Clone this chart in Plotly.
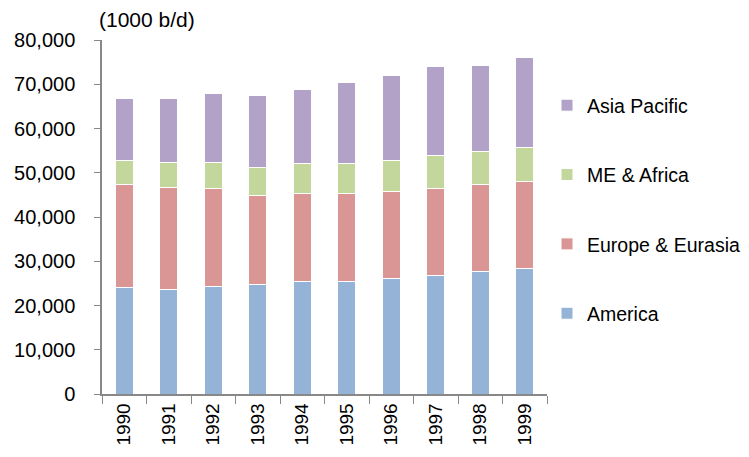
import plotly.graph_objects as go

years = ["1990", "1991", "1992", "1993", "1994", "1995", "1996", "1997", "1998", "1999"]
america = [24.0, 23.6, 24.4, 24.7, 25.4, 25.4, 26.1, 26.8, 27.6, 28.4]
europe_eurasia = [47.3, 46.6, 46.5, 44.9, 45.4, 45.3, 45.8, 46.5, 47.3, 48.0]
me_africa = [52.7, 52.4, 52.4, 51.2, 52.0, 52.0, 52.7, 53.9, 54.8, 55.6]
asia_pacific = [66.7, 66.7, 67.9, 67.5, 68.8, 70.4, 71.9, 73.9, 74.3, 76.1]

# cumulative tops (thousands) -> segment values (thousand b/d)
def seg(top, bottom):
    return [round((t - b) * 1000) for t, b in zip(top, bottom)]

zero = [0] * len(years)
series = [
    ("America", seg(america, zero), "#95B3D7", 4),
    ("Europe & Eurasia", seg(europe_eurasia, america), "#D99694", 3),
    ("ME & Africa", seg(me_africa, europe_eurasia), "#C3D69B", 2),
    ("Asia Pacific", seg(asia_pacific, me_africa), "#B3A2C7", 1),
]

font_family = "Liberation Sans, Arial, sans-serif"

fig = go.Figure()
for name, vals, color, rank in series:
    fig.add_trace(go.Bar(
        x=years, y=vals, name=name, legendgroup=name, legendrank=rank,
        marker=dict(color=color, line=dict(color="white", width=1)),
    ))

# page body has an 8px default margin, so the figure is offset by 8px
fig.update_layout(
    width=749, height=449,
    barmode="stack", bargap=0.6,
    plot_bgcolor="white", paper_bgcolor="white",
    margin=dict(l=94, r=210, t=32, b=63),
    font=dict(family=font_family, size=18, color="#000000"),
    showlegend=True,
    legend=dict(
        x=1.0, y=0.87, xanchor="left", yanchor="top",
        traceorder="grouped", tracegroupgap=41,
        font=dict(size=19.5, family=font_family),
        itemwidth=30,
    ),
    xaxis=dict(
        type="category", tickangle=-90, tickson="boundaries",
        ticks="outside", ticklen=8, tickcolor="#888888",
        showline=True, linecolor="#888888", linewidth=1.5,
        tickfont=dict(size=19), automargin=False,
    ),
    yaxis=dict(
        range=[0, 80000], dtick=10000, tickformat=",d",
        ticks="outside", ticklen=6, tickcolor="#888888",
        showline=True, linecolor="#888888", linewidth=1.5,
        showgrid=False, zeroline=False,
        tickfont=dict(size=20), ticklabelstandoff=15, automargin=False,
    ),
    annotations=[dict(
        text="(1000 b/d)", xref="paper", yref="paper",
        x=-0.011, y=1.02, xanchor="left", yanchor="bottom",
        showarrow=False, font=dict(size=21, family=font_family),
    )],
)

fig.write_html("out.html")
